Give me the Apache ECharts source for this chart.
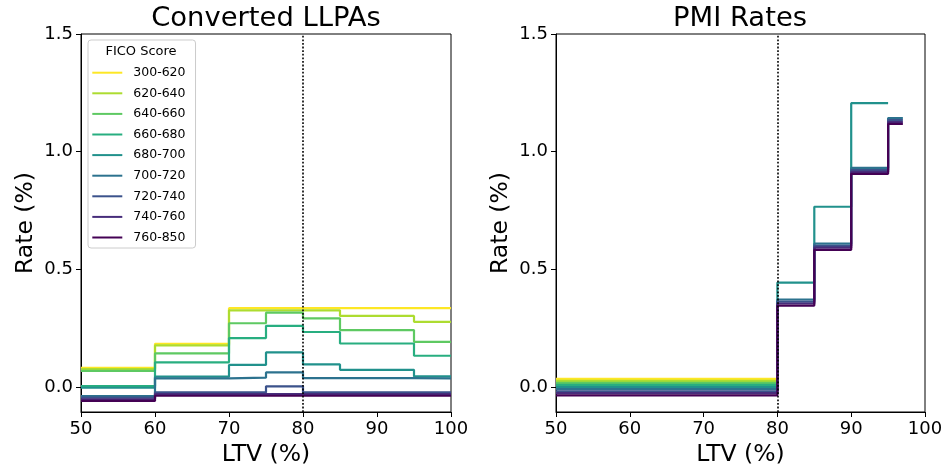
<!DOCTYPE html>
<html>
<head>
<meta charset="utf-8">
<script src="https://cdn.jsdelivr.net/npm/echarts@6/dist/echarts.min.js"></script>
<style>
  html, body { margin: 0; padding: 0; background: #fff; }
  #chart { width: 947px; height: 472px; }
</style>
</head>
<body>
<div id="chart"></div>
<script>
// FICO score bands, lowest to highest
const ficoBands = ['300-620', '620-640', '640-660', '660-680', '680-700',
                   '700-720', '720-740', '740-760', '760-850'];

// Converted LLPAs: LTV breakpoints and the rate (%) held on each LTV interval
const llpaLtv = [50, 60, 70, 75, 80, 85, 95, 100];
const llpaRates = [
  [0.082, 0.184, 0.335, 0.335, 0.335, 0.335, 0.335],    // 300-620
  [0.076, 0.177, 0.326, 0.326, 0.326, 0.302, 0.277],    // 620-640
  [0.069, 0.143, 0.271, 0.316, 0.292, 0.242, 0.192],    // 640-660
  [0.004, 0.105, 0.208, 0.260, 0.234, 0.185, 0.133],    // 660-680
  [-0.003, 0.044, 0.094, 0.147, 0.096, 0.073, 0.045],   // 680-700
  [-0.038, 0.037, 0.040, 0.062, 0.038, 0.038, 0.037],   // 700-720
  [-0.045, -0.023, -0.023, 0.003, -0.023, -0.023, -0.023], // 720-740
  [-0.052, -0.030, -0.030, -0.030, -0.030, -0.030, -0.030], // 740-760
  [-0.059, -0.037, -0.037, -0.037, -0.037, -0.037, -0.037]  // 760-850
];

// PMI rates: LTV breakpoints and the rate (%) on each interval (null = not offered)
const pmiLtv = [50, 80, 85, 90, 95, 97];
const pmiRates = [
  [0.035, null, null, null, null],      // 300-620
  [0.026, null, null, null, null],      // 620-640
  [0.018, null, null, null, null],      // 640-660
  [0.009, null, null, null, null],      // 660-680
  [0.000, 0.444, 0.766, 1.206, null],   // 680-700
  [-0.009, 0.372, 0.609, 0.931, 1.143], // 700-720
  [-0.018, 0.363, 0.600, 0.922, 1.134], // 720-740
  [-0.026, 0.355, 0.592, 0.914, 1.126], // 740-760
  [-0.035, 0.346, 0.583, 0.906, 1.118]  // 760-850
];

const ltvTicks = [50, 60, 70, 80, 90, 100];
const rateTicks = [0.0, 0.5, 1.0, 1.5];
const conformingLtv = 80;

// viridis, high colour for low scores
const palette = ['#fde725', '#addc30', '#5ec962', '#28ae80', '#21918c',
                 '#2c728e', '#3b528b', '#472d7b', '#440154'];

const FONT = 'DejaVu Sans';

// Turn interval values into step points, closing the last interval at its end.
function stepPoints(xs, vals) {
  const pts = [];
  let last = null;
  for (let i = 0; i < vals.length; i++) {
    if (vals[i] == null) break;
    pts.push([xs[i], vals[i]]);
    last = vals[i];
  }
  pts.push([xs[pts.length], last]);
  return pts;
}

function xAxisFor(gridIndex) {
  return {
    type: 'value', gridIndex: gridIndex,
    min: ltvTicks[0], max: ltvTicks[ltvTicks.length - 1], interval: 10,
    name: 'LTV (%)', nameLocation: 'middle', nameGap: 31,
    nameTextStyle: { fontFamily: FONT, fontSize: 23.5, color: '#000' },
    axisLine: { show: true, onZero: false, lineStyle: { color: '#000', width: 1 } },
    axisTick: { show: true, inside: false, length: 5, lineStyle: { color: '#000', width: 1 } },
    axisLabel: { fontFamily: FONT, fontSize: 18, color: '#000', margin: 8 },
    splitLine: { show: false }
  };
}

function yAxisFor(gridIndex) {
  return {
    type: 'value', gridIndex: gridIndex, min: -0.106, max: 1.5,
    name: 'Rate (%)', nameLocation: 'middle', nameGap: 43, nameRotate: 90,
    nameTextStyle: { fontFamily: FONT, fontSize: 23.5, color: '#000' },
    axisLine: { show: true, onZero: false, lineStyle: { color: '#000', width: 1 } },
    axisTick: { show: true, inside: false, length: 5, customValues: rateTicks,
                lineStyle: { color: '#000', width: 1 } },
    axisLabel: { fontFamily: FONT, fontSize: 18, color: '#000', margin: 8,
                 customValues: rateTicks, formatter: v => v.toFixed(1) },
    splitLine: { show: false }
  };
}

function stepSeries(gridIndex, xs, rows) {
  return ficoBands.map((band, i) => {
    const s = {
      name: band, type: 'line', step: 'end',
      xAxisIndex: gridIndex, yAxisIndex: gridIndex,
      data: stepPoints(xs, rows[i]),
      showSymbol: false, symbol: 'none', silent: true,
      lineStyle: { color: palette[i], width: 2.2 },
      itemStyle: { color: palette[i] },
      z: 2 + i * 0.01
    };
    if (i === ficoBands.length - 1) {
      s.markLine = {
        symbol: 'none', silent: true, animation: false,
        label: { show: false },
        lineStyle: { color: '#000', type: [1.8, 1.8], width: 1.6 },
        data: [{ xAxis: conformingLtv }]
      };
    }
    return s;
  });
}

const chart = echarts.init(document.getElementById('chart'), null, { renderer: 'canvas' });

chart.setOption({
  animation: false,
  backgroundColor: '#fff',
  title: [
    { text: 'Converted LLPAs', left: 266, top: 5, textAlign: 'center', padding: 0,
      textStyle: { fontFamily: FONT, fontSize: 27.4, fontWeight: 'normal', color: '#000' } },
    { text: 'PMI Rates', left: 740, top: 5, textAlign: 'center', padding: 0,
      textStyle: { fontFamily: FONT, fontSize: 27.4, fontWeight: 'normal', color: '#000' } }
  ],
  grid: [
    { left: 81, top: 34, width: 370, height: 379, show: true,
      borderColor: '#000', borderWidth: 1, backgroundColor: 'transparent' },
    { left: 556, top: 34, width: 369, height: 379, show: true,
      borderColor: '#000', borderWidth: 1, backgroundColor: 'transparent' }
  ],
  xAxis: [xAxisFor(0), xAxisFor(1)],
  yAxis: [yAxisFor(0), yAxisFor(1)],
  legend: {
    data: ficoBands,
    orient: 'vertical', left: 88, top: 40,
    padding: [24.7, 10, 2.5, 4.3],
    itemWidth: 30, itemHeight: 2, itemGap: 4.6,
    icon: 'rect', selectedMode: false,
    backgroundColor: 'rgba(255,255,255,0.8)',
    borderColor: '#cccccc', borderWidth: 1, borderRadius: 3,
    textStyle: { fontFamily: FONT, fontSize: 12.5, color: '#000', lineHeight: 16,
                 padding: [0, 0, 0, 6] },
    z: 20
  },
  graphic: [
    { type: 'text', x: 141, y: 52, z: 100, silent: true,
      style: { text: 'FICO Score', fill: '#000', font: '13px "DejaVu Sans"',
               textAlign: 'center', textVerticalAlign: 'middle' } }
  ],
  series: stepSeries(0, llpaLtv, llpaRates).concat(stepSeries(1, pmiLtv, pmiRates))
});
</script>
</body>
</html>
